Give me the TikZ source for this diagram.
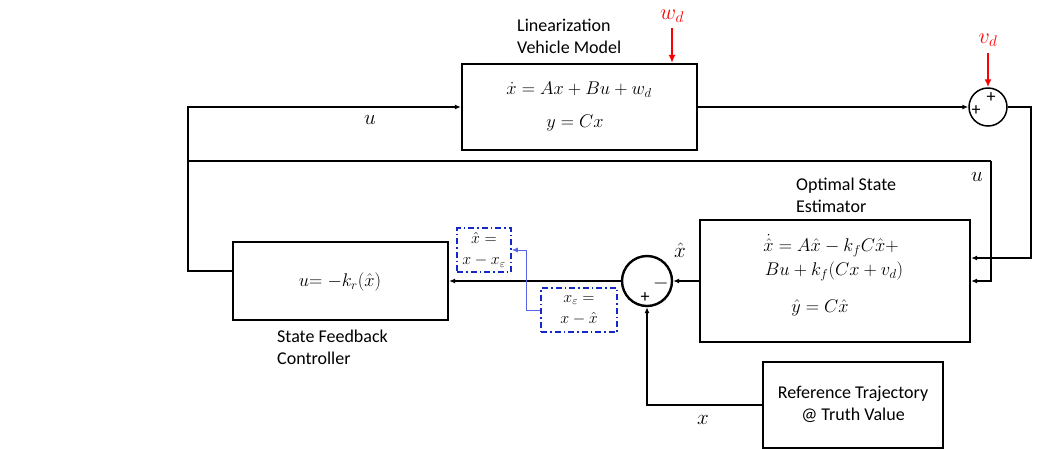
\documentclass[tikz,border=0pt]{standalone}
\usepackage{fix-cm}
\usepackage{fontspec}
\setmainfont{Carlito}
\usetikzlibrary{arrows.meta}
\definecolor{dblue}{RGB}{20,40,200}
\definecolor{lblue}{RGB}{90,100,230}
\begin{document}
\begin{tikzpicture}[x=1pt,y=-1pt]
\tikzset{
 blk/.style={draw, line width=2.2pt, inner sep=0pt},
 conn/.style={line width=1.3pt, -{Latex[length=6pt,width=5pt]}},
 plain/.style={line width=1.3pt},
 lbl/.style={font=\fontsize{18}{22}\selectfont, align=left, inner sep=0pt},
 mth/.style={font=\fontsize{18.4}{24}\selectfont, inner sep=0pt},
 sig/.style={font=\fontsize{21}{21}\selectfont, inner sep=0pt},
 smth/.style={font=\fontsize{16}{21}\selectfont, inner sep=0pt, align=center},
 dbox/.style={draw=dblue, line width=1.5pt, dash pattern=on 6pt off 3pt on 1.5pt off 3pt, inner sep=0pt},
 redarr/.style={red, line width=2pt, -{Latex[length=8pt,width=7pt]}},
 sumc/.style={draw, circle, inner sep=0pt},
 sgn/.style={font=\fontsize{18}{18}\selectfont, inner sep=0pt},
}
\useasboundingbox (0,0) rectangle (1056,448);

% blocks
\node[blk, minimum width=235pt, minimum height=86pt] (model) at (579.5,107) {};
\node[mth] (meq1) at (579,90) {$\dot{x} = Ax + Bu + w_d$};
\node[mth] (meq2) at (575,123) {$y = Cx$};
\node[lbl, anchor=west] (mlbl) at (517,36) {Linearization\\Vehicle Model};

\node[blk, minimum width=270pt, minimum height=122pt] (est) at (835,281) {};
\node[mth] (eeq1) at (831,246) {$\dot{\hat{x}} = A\hat{x} - k_f C\hat{x} +$};
\node[mth] (eeq2) at (834,271) {$Bu + k_f(Cx + v_d)$};
\node[mth] (eeq3) at (820,308) {$\hat{y} = C\hat{x}$};
\node[lbl, anchor=west] (elbl) at (796,195) {Optimal State\\Estimator};

\node[blk, minimum width=215pt, minimum height=78pt] (ctrl) at (340.5,281) {};
\node[mth] (ceq) at (340,282) {$u{=}\;{-k_r}(\hat{x})$};
\node[lbl, anchor=west] (clbl) at (277,347) {State Feedback\\Controller};

\node[blk, minimum width=180pt, minimum height=86pt] (ref) at (853,405) {};
\node[lbl, align=center] (rlbl) at (853,404) {Reference Trajectory\\@ Truth Value};

% summing junctions
\node[sumc, line width=1.5pt, minimum size=38pt] (s1) at (988,107) {};
\node[sgn] (s1a) at (976,111) {+};
\node[sgn] (s1b) at (991,98) {+};
\node[sumc, line width=2.4pt, minimum size=50pt] (s2) at (647,281) {};
\node[sgn, font=\fontsize{20}{20}\selectfont] (s2a) at (661,283) {$-$};
\node[sgn] (s2b) at (645,298) {+};

% dashed boxes
\node[dbox, minimum width=54pt, minimum height=44pt] (xhb) at (484,250) {};
\node[smth] (xht) at (484,250) {$\hat{x} =$\\$x - x_\varepsilon$};
\node[dbox, minimum width=76pt, minimum height=44pt] (xeb) at (579,310) {};
\node[smth] (xet) at (579,310) {$x_\varepsilon =$\\$x - \hat{x}$};

% disturbance labels
\node[red, font=\fontsize{22}{22}\selectfont, inner sep=0pt] (wd) at (672,16) {$w_d$};
\node[red, font=\fontsize{22}{22}\selectfont, inner sep=0pt] (vd) at (988,40) {$v_d$};
\coordinate (wdt) at (672,28);
\coordinate (vdt) at (988,53);

% signal labels
\node[sig] (ul1) at (370,120) {$u$};
\node[sig] (ul2) at (977,177) {$u$};
\node[sig] (xhl) at (680,250) {$\hat{x}$};
\node[sig] (xl) at (703,420) {$x$};

% corner coordinates
\coordinate (uj) at (188,161);
\coordinate (uc) at (991,161);
\coordinate (oc) at (1031,107);

% connectors
\draw[conn] ([yshift=10pt]ctrl.west) -- (188,271) |- (model.west);
\draw[plain] (uj) -- (uc);
\draw[conn] (uc) |- (est.east);
\draw[conn] (model.east) -- (s1.west);
\draw[conn] (s1.east) -- (oc) |- ([yshift=23pt]est.east);
\draw[conn] (est.west) -- (s2.east);
\draw[conn] (s2.west) -- (ctrl.east);
\draw[conn] (ref.west) -| (s2.south);
\draw[redarr] (wdt) -- (model.north -| wdt) ;
\draw[redarr] (vdt) -- (s1.north);
\draw[lblue, line width=1pt, -{Latex[length=6pt,width=5pt]}] (xeb.west) -- (526,310) |- (xhb.east);
\end{tikzpicture}
\end{document}
